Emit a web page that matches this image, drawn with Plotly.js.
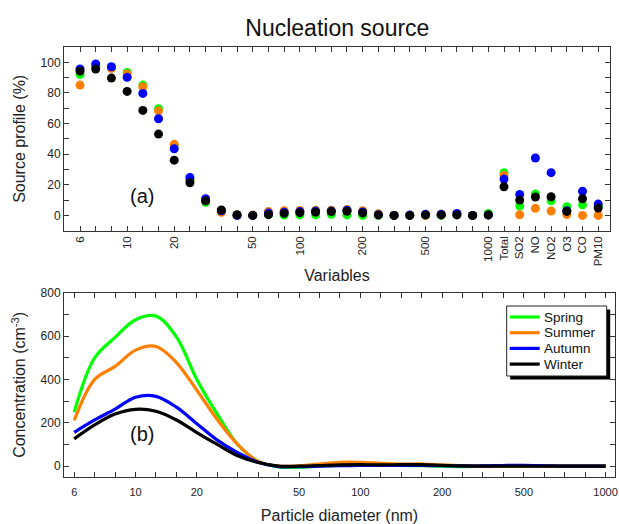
<!DOCTYPE html>
<html><head><meta charset="utf-8">
<script src="https://cdn.plot.ly/plotly-3.0.1.min.js"></script>
<style>html,body{margin:0;padding:0;background:#fff}</style>
</head><body><div id="chart" style="width:619px;height:524px"></div>
<script>
// ---- data ----
const seasons = ['Spring', 'Summer', 'Autumn', 'Winter'];
const seasonColors = ['#00ff00', '#ff8000', '#0000ff', '#000000'];

// size bins (27 bins from 6 nm to 1000 nm), labelled bins
const sizeTickLabels = ['6', '10', '20', '50', '100', '200', '500', '1000'];
const sizeTickIndex = [0, 3, 6, 11, 14, 18, 22, 26];
const nSizeBins = 27;
const gasVariables = ['Total', 'SO2', 'NO', 'NO2', 'O3', 'CO', 'PM10'];

// (a) source profile (%) : 27 size bins followed by the 7 other variables
const profileSpring = [92.1, 97.5, 96.5, 93.4, 85.1, 69.7, 46.0, 23.0, 8.6, 2.5, 0, 0, 0.5, 0.2, 0.3, 0.3, 0.7, 0.3, 0, 0, 0, 0, 0, 0, 0.5, 0, 1.3,
  27.9, 6.1, 13.9, 9.6, 5.7, 6.9, 6.0];
const profileSummer = [85.1, 97.0, 96.0, 92.4, 84.0, 68.3, 46.4, 23.5, 9.5, 2.0, 0, 0.2, 2.5, 3.0, 3.2, 3.3, 3.4, 3.8, 3.0, 1.0, 0, 0, 0, 0.3, 1.0, 0, 0.2,
  26.3, 0.4, 4.6, 2.8, 0.6, 0, 0];
const profileAutumn = [95.6, 98.9, 97.1, 90.2, 79.7, 63.1, 43.5, 24.8, 10.9, 3.0, 0, 0, 1.5, 2.0, 2.5, 2.8, 2.8, 3.4, 2.2, 0.5, 0, 0.2, 0.7, 0.8, 1.3, 0, 0.3,
  23.7, 13.7, 37.5, 27.9, 3.0, 15.7, 7.4];
const profileWinter = [94.3, 95.6, 89.7, 81.0, 68.6, 53.1, 36.1, 21.3, 9.5, 3.5, 0.4, 0, 0.5, 1.3, 1.8, 2.2, 2.5, 2.7, 1.6, 0.3, 0, 0, 0.3, 0.3, 0.3, 0, 0.3,
  18.7, 10.0, 12.0, 12.2, 2.6, 10.9, 4.8];

// (b) concentration (cm-3) per size bin
const concSpring = [250, 500, 594, 675, 692, 596, 400, 240, 100, 22, -3, -5, 0, 3, 4, 3, 3, 2, 0, -2, 0, 0, 0, 0, 0, 0, 0];
const concSummer = [211, 400, 460, 535, 552, 478, 350, 215, 100, 22, 0, 2, 10, 18, 18, 13, 10, 10, 6, 2, 0, 0, 0, 0, 0, 0, 0];
const concAutumn = [156, 213, 263, 318, 322, 272, 196, 120, 62, 18, -2, -2, 0, 2, 3, 3, 3, 3, 2, 1, 1, 3, 4, 2, 0, 0, 0];
const concWinter = [126, 190, 240, 262, 253, 213, 155, 100, 48, 17, 0, 0, 3, 6, 7, 6, 7, 7, 4, 1, 0, 0, 0, 0, 0, 0, 0];

const profiles = [profileSpring, profileSummer, profileAutumn, profileWinter];
const concs = [concSpring, concSummer, concAutumn, concWinter];

// ---- build ----
const FONT = 'Arial, "Liberation Sans", sans-serif';
const AX = '#333333';
const topIdx = profileSpring.map((_, i) => i);
const binIdx = concSpring.map((_, i) => i);

const topTickVals = sizeTickIndex.concat(gasVariables.map((_, k) => nSizeBins + k));
const topTickText = sizeTickLabels.concat(gasVariables);

const traces = [];
profiles.forEach((p, s) => {
  traces.push({
    x: topIdx, y: p, type: 'scatter', mode: 'markers',
    xaxis: 'x', yaxis: 'y', showlegend: false, name: seasons[s],
    marker: {color: seasonColors[s], size: 9, line: {width: 0}}
  });
});
concs.forEach((c, s) => {
  traces.push({
    x: binIdx, y: c, type: 'scatter', mode: 'lines',
    xaxis: 'x2', yaxis: 'y2', name: seasons[s], showlegend: false,
    line: {color: seasonColors[s], width: 3.2, shape: 'spline', smoothing: 1}
  });
});

const axCommon = {
  showline: true, linecolor: AX, linewidth: 1, mirror: 'ticks',
  ticks: 'inside', ticklen: 5, tickwidth: 1, tickcolor: AX,
  showgrid: false, zeroline: false,
  tickfont: {family: FONT, size: 12, color: '#222'}
};

const W = 619, H = 524, ML = 64, MR = 4, MT = 47, MB = 47;
const PW = W - ML - MR, PH = H - MT - MB;
const px = v => (v - ML) / PW;
const py = v => (H - MB - v) / PH;

// legend box (drawn as a framed box with a drop shadow, like the original)
const LG = {x0: 506.7, x1: 606.7, y0: 306, y1: 376, first: 317, step: 15.7, shadow: 3.5};
const shapes = [
  {type: 'rect', xref: 'paper', yref: 'paper', layer: 'above',
    x0: px(LG.x0 + LG.shadow), x1: px(LG.x1 + LG.shadow), y0: py(LG.y1 + LG.shadow), y1: py(LG.y0 + LG.shadow),
    fillcolor: '#000', line: {width: 0}},
  {type: 'rect', xref: 'paper', yref: 'paper', layer: 'above',
    x0: px(LG.x0), x1: px(LG.x1), y0: py(LG.y1), y1: py(LG.y0),
    fillcolor: '#fff', line: {color: '#222', width: 1}}
];
const annotations = [
  {text: '(a)', xref: 'paper', yref: 'paper', x: px(127.5), y: py(196), showarrow: false,
    font: {family: FONT, size: 20, color: '#111'}},
  {text: '(b)', xref: 'paper', yref: 'paper', x: px(127.5), y: py(446.7), showarrow: false,
    font: {family: FONT, size: 20, color: '#111'}}
];
seasons.forEach((name, s) => {
  const yy = LG.first + LG.step * s;
  shapes.push({type: 'line', xref: 'paper', yref: 'paper', layer: 'above',
    x0: px(LG.x0 + 3), x1: px(LG.x0 + 33), y0: py(yy), y1: py(yy),
    line: {color: seasonColors[s], width: 3.2}});
  annotations.push({text: name, xref: 'paper', yref: 'paper', x: px(LG.x0 + 35), y: py(yy),
    xanchor: 'left', yanchor: 'middle', showarrow: false,
    font: {family: FONT, size: 13.5, color: '#111'}});
});

const layout = {
  width: W, height: H,
  margin: {l: ML, r: MR, t: MT, b: MB, pad: 0},
  paper_bgcolor: '#fff', plot_bgcolor: '#fff',
  font: {family: FONT, color: '#222'},
  showlegend: false,
  title: {text: 'Nucleation source', font: {family: FONT, size: 23, color: '#111'},
    x: 0.545, xanchor: 'center', xref: 'container', y: 1 - 28 / H, yanchor: 'middle', yref: 'container'},
  xaxis: Object.assign({}, axCommon, {
    domain: [0, px(610)], anchor: 'y', range: [-1.02, 33.75],
    tickmode: 'array', tickvals: topTickVals, ticktext: topTickText, tickangle: -90,
    tickfont: {family: FONT, size: 11.5, color: '#222'},
    minor: {tickmode: 'array', tickvals: topIdx, ticks: 'inside', ticklen: 5, tickcolor: AX},
    title: {text: 'Variables', font: {family: FONT, size: 16, color: '#222'}, standoff: 4}
  }),
  yaxis: Object.assign({}, axCommon, {
    domain: [py(230.7), 1], anchor: 'x', range: [-10, 110],
    tickmode: 'array', tickvals: [0, 20, 40, 60, 80, 100],
    minor: {dtick: 10, ticks: 'inside', ticklen: 5, tickcolor: AX},
    title: {text: 'Source profile (%)', font: {family: FONT, size: 16, color: '#222'}, standoff: 10}
  }),
  xaxis2: Object.assign({}, axCommon, {
    domain: [0, 1], anchor: 'y2', range: [-0.5, 26.46],
    tickmode: 'array', tickvals: sizeTickIndex, ticktext: sizeTickLabels,
    tickfont: {family: FONT, size: 11, color: '#222'},
    ticklabeloverflow: 'allow', ticklabelstandoff: 5,
    minor: {tickmode: 'array', tickvals: binIdx, ticks: 'inside', ticklen: 5, tickcolor: AX},
    title: {text: 'Particle diameter (nm)', font: {family: FONT, size: 16, color: '#222'}, standoff: 12}
  }),
  yaxis2: Object.assign({}, axCommon, {
    domain: [0, py(292.7)], anchor: 'x2', range: [-50, 800],
    tickmode: 'array', tickvals: [0, 200, 400, 600, 800],
    minor: {dtick: 100, ticks: 'inside', ticklen: 5, tickcolor: AX},
    title: {text: 'Concentration (cm<sup>-3</sup>)', font: {family: FONT, size: 16, color: '#222'}, standoff: 10}
  }),
  shapes: shapes,
  annotations: annotations
};

Plotly.newPlot('chart', traces, layout, {displayModeBar: false, staticPlot: true});
</script>
</body></html>
